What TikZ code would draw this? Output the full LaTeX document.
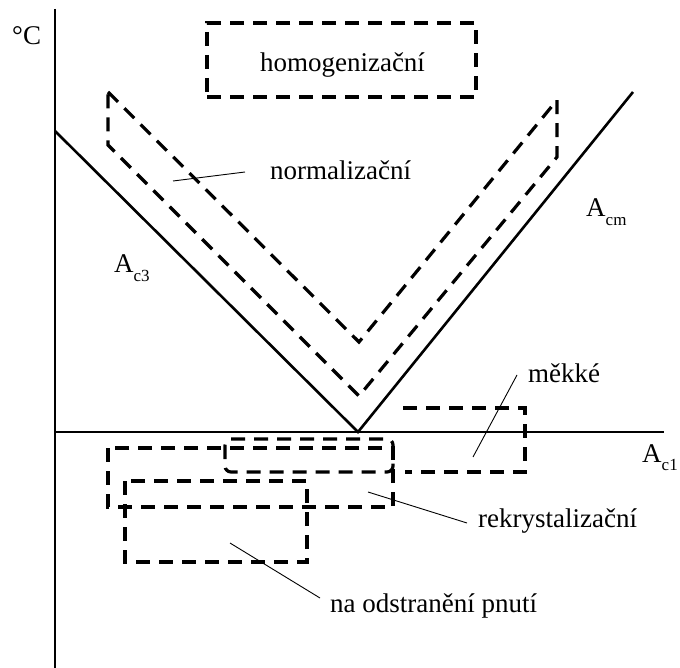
\documentclass[tikz,border=0pt]{standalone}
\usepackage{fontspec}
\setmainfont{Liberation Serif}
\newcommand{\subsc}[1]{\raisebox{-0.3em}{\fontsize{17}{17}\selectfont #1}}
\tikzset{
  axisline/.style={line width=2.4pt},
  phaseline/.style={line width=2.6pt},
  dbox/.style={line width=3.2pt, dash pattern=on 14pt off 9pt},
  leader/.style={line width=0.9pt},
  lbl/.style={inner sep=0pt, font=\fontsize{27}{30}\selectfont},
}
\begin{document}
\begin{tikzpicture}[x=1pt,y=-1pt]
\useasboundingbox (0,0) rectangle (680,668);
% axes
\coordinate (ytop) at (55,9);
\coordinate (ybot) at (55,668);
\coordinate (O) at (55,432);
\coordinate (xend) at (664,432);
\coordinate (V) at (358,432);
\coordinate (c3top) at (55,131);
\coordinate (cmtop) at (633,92);
\draw[axisline] (ytop) -- (ybot);
\draw[axisline] (O) -- (xend);
\draw[phaseline] (c3top) -- (V) -- (cmtop);
% homogenizacni
\node[dbox, draw, minimum width=269pt, minimum height=74pt, inner sep=0pt] (homobox) at (341.5,60) {};
\node[lbl, anchor=base] (homo) at (342.5,72) {homogenizační};
% normalizacni band
\draw[dbox] (108,92) -- (359,342) -- (557,100) -- (557,157) -- (359,396) -- (108,145) -- cycle;
% lower boxes
\draw[dbox] (108,448) rectangle (393,507);
\draw[dbox, rounded corners=6pt] (225,439) rectangle (393,472);
\draw[dbox] (125,481) rectangle (307,562);
\draw[dbox] (403,408) -- (525,408) -- (525,472) -- (405,472);
% labels
\node[lbl, anchor=base west] (degC) at (12,45) {°C};
\node[lbl, anchor=base west] (ac3) at (114,273) {A\subsc{c3}};
\node[lbl, anchor=base west] (acm) at (586,217) {A\subsc{cm}};
\node[lbl, anchor=base west] (ac1) at (642,462) {A\subsc{c1}};
\node[lbl, anchor=base west] (norm) at (270,180) {normalizační};
\node[lbl, anchor=base west] (mekke) at (528,382) {měkké};
\node[lbl, anchor=base west] (rekr) at (478,527) {rekrystalizační};
\node[lbl, anchor=base west] (pnuti) at (330,612) {na odstranění pnutí};
% leaders
\coordinate (nzA) at (173,181); \coordinate (nzB) at (245,172);
\draw[leader] (nzA) -- (nzB);
\coordinate (mkA) at (473,457); \coordinate (mkB) at (517,375);
\draw[leader] (mkA) -- (mkB);
\coordinate (rkA) at (368,492); \coordinate (rkB) at (467,523);
\draw[leader] (rkA) -- (rkB);
\coordinate (pnA) at (230,543); \coordinate (pnB) at (320,598);
\draw[leader] (pnA) -- (pnB);
\end{tikzpicture}
\end{document}
